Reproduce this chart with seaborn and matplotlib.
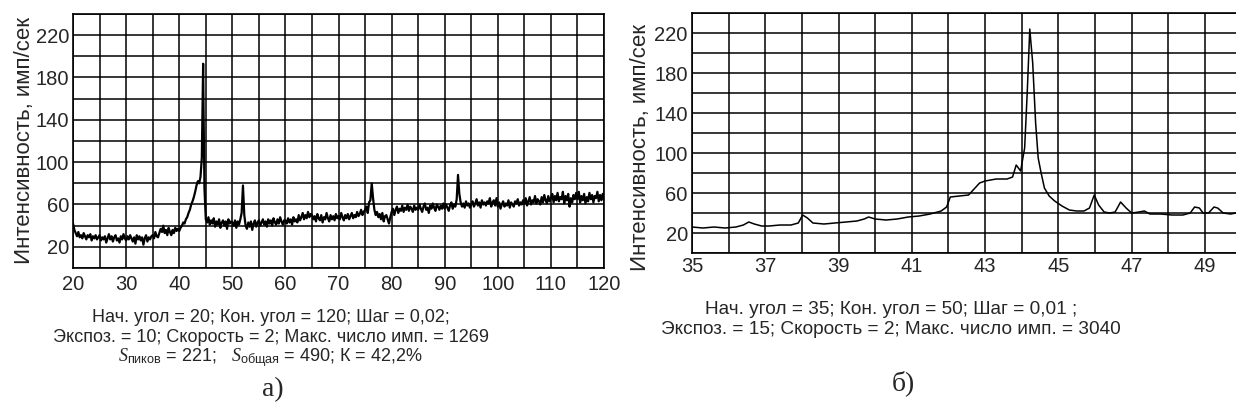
import numpy as np
import pandas as pd
import seaborn as sns
import matplotlib.pyplot as plt
from matplotlib.ticker import MultipleLocator

# ---------------------------------------------------------------
# ДАННЫЕ
# ---------------------------------------------------------------
# а) обзорная дифрактограмма, 20..120 град, шаг выборки 0.25
angle_a = np.arange(20, 120.01, 0.25)
intens_a = [
    42, 36, 33, 30, 34, 29, 31, 28, 33, 30, 27, 31, 29, 32, 26, 30, 28, 31, 27, 29,
    31, 26, 29, 27, 30, 24, 28, 32, 27, 30, 25, 29, 31, 26, 28, 24, 30, 27, 32, 28,
    26, 30, 27, 31, 28, 25, 29, 23, 31, 27, 30, 26, 29, 22, 28, 31, 25, 29, 27, 30,
    31, 28, 34, 30, 29, 33, 37, 34, 40, 33, 36, 31, 38, 34, 31, 36, 33, 38, 35, 37,
    35, 38, 40, 43, 42, 46, 48, 52, 55, 60, 63, 67, 72, 78, 82, 80, 86, 104, 193, 75,
    46, 43, 48, 41, 45, 42, 47, 39, 44, 41, 46, 38, 43, 45, 40, 44, 37, 46, 42, 44,
    43, 40, 45, 38, 44, 41, 46, 52, 78, 50, 40, 37, 43, 39, 44, 36, 42, 45, 39, 43,
    45, 40, 43, 46, 41, 44, 39, 46, 42, 45, 40, 47, 43, 41, 46, 42, 48, 44, 41, 45,
    45, 42, 47, 43, 46, 41, 48, 44, 46, 43, 50, 45, 48, 52, 46, 50, 47, 53, 48, 51,
    50, 46, 49, 44, 51, 47, 45, 50, 43, 48, 46, 52, 47, 44, 50, 46, 49, 45, 51, 47,
    49, 46, 52, 48, 45, 50, 47, 51, 46, 49, 52, 47, 50, 48, 53, 49, 51, 55, 50, 53,
    55, 58, 52, 62, 64, 80, 66, 55, 50, 53, 48, 51, 46, 52, 44, 49, 50, 46, 42, 48,
    53, 56, 50, 55, 58, 52, 56, 54, 59, 53, 57, 55, 60, 54, 58, 56, 53, 59, 55, 57,
    55, 60, 56, 53, 58, 61, 55, 57, 52, 59, 56, 61, 57, 54, 60, 58, 55, 59, 56, 61,
    56, 60, 57, 54, 59, 62, 56, 60, 58, 65, 88, 70, 62, 58, 61, 57, 63, 59, 61, 57,
    60, 63, 58, 61, 65, 59, 62, 57, 64, 60, 62, 59, 63, 61, 66, 58, 62, 64, 59, 66,
    58, 62, 56, 60, 63, 58, 61, 59, 64, 57, 62, 60, 58, 63, 61, 65, 59, 62, 60, 64,
    61, 66, 59, 63, 67, 60, 64, 62, 68, 61, 65, 63, 60, 67, 62, 69, 64, 61, 68, 63,
    66, 70, 62, 68, 64, 71, 63, 67, 65, 72, 61, 68, 64, 70, 58, 66, 62, 69, 65, 71,
    65, 72, 62, 68, 64, 70, 61, 67, 63, 71, 65, 69, 62, 68, 66, 72, 63, 69, 64, 70,
    64,
]
# дополнительные точки на склонах главного пика
peak_angle_a = [44.4, 44.6]
peak_intens_a = [160, 140]

# б) детальный участок 35..50 град
angle_b = [35.0, 35.3, 35.6, 35.9, 36.2, 36.4, 36.55, 36.7, 36.9, 37.1,
           37.4, 37.7, 37.9, 38.02, 38.15, 38.3, 38.6, 38.9, 39.2, 39.5,
           39.7, 39.82, 40.0, 40.3, 40.6, 40.9, 41.2, 41.5, 41.8, 41.95,
           42.05, 42.3, 42.55, 42.7, 42.85, 43.0, 43.3, 43.6, 43.75, 43.85,
           43.97, 44.08, 44.15, 44.22, 44.3, 44.38, 44.45, 44.53, 44.62, 44.75,
           44.9, 45.1, 45.3, 45.5, 45.7, 45.85, 45.98, 46.1, 46.25, 46.4,
           46.55, 46.7, 46.85, 47.0, 47.2, 47.35, 47.5, 47.8, 48.1, 48.4,
           48.6, 48.72, 48.85, 48.95, 49.1, 49.25, 49.35, 49.5, 49.7, 49.85]
intens_b = [26, 25, 26, 25, 26, 28, 31, 29, 27, 27,
            28, 28, 30, 38, 35, 30, 29, 30, 31, 32,
            34, 36, 34, 33, 34, 36, 37, 39, 42, 46,
            56, 57, 58, 64, 70, 72, 74, 74, 76, 88,
            82, 105, 160, 224, 190, 130, 95, 80, 65, 57,
            52, 47, 43, 42, 42, 45, 58, 48, 41, 40,
            41, 51, 45, 40, 41, 42, 39, 39, 38, 38,
            40, 46, 45, 40, 40, 46, 45, 40, 39, 40]

ticks_y = [20, 60, 100, 140, 180, 220]
ticks_x_a = list(range(20, 121, 10))
ticks_x_b = list(range(35, 50, 2))

caption_a = ["Нач. угол = 20; Кон. угол = 120; Шаг = 0,02;",
             "Экспоз. = 10; Скорость = 2; Макс. число имп. = 1269",
             r"$S_{\mathrm{пиков}}$ = 221;   $S_{\mathrm{общая}}$ = 490; К = 42,2%"]
caption_b = ["Нач. угол = 35; Кон. угол = 50; Шаг = 0,01 ;",
             "Экспоз. = 15; Скорость = 2; Макс. число имп. = 3040"]
ylabel = "Интенсивность, имп/сек"

# ---------------------------------------------------------------
# СТИЛЬ
# ---------------------------------------------------------------
sns.set_style("white")
plt.rcParams['font.family'] = ['Liberation Sans', 'DejaVu Sans']
plt.rcParams['mathtext.fontset'] = 'custom'
plt.rcParams['mathtext.it'] = 'Liberation Serif:italic'
plt.rcParams['mathtext.rm'] = 'Liberation Sans'

df_a = pd.DataFrame({"angle": list(angle_a) + peak_angle_a,
                     "intens": intens_a + peak_intens_a}).sort_values("angle")
df_b = pd.DataFrame({"angle": angle_b, "intens": intens_b})

fig = plt.figure(figsize=(12.36, 4.2), dpi=100)
ax_a = fig.add_axes([0.0591, 0.3619, 0.4296, 0.6048])
ax_b = fig.add_axes([0.5599, 0.3976, 0.4401, 0.5714])


def setup(ax, xlim, xstep, xticks):
    ax.set_xlim(*xlim)
    ax.set_ylim(0, 240)
    ax.xaxis.set_minor_locator(MultipleLocator(xstep))
    ax.yaxis.set_minor_locator(MultipleLocator(20))
    ax.set_xticks(xticks)
    ax.set_yticks(ticks_y)
    ax.grid(which="minor", color="black", linewidth=1.1)
    ax.grid(which="major", color="black", linewidth=1.1)
    ax.tick_params(which="both", length=0, labelsize=14.5, pad=3)
    for s in ax.spines.values():
        s.set_color("black")
        s.set_linewidth(1.2)
    ax.set_xlabel("")
    ax.set_ylabel(ylabel, fontsize=16, labelpad=0)
    ax.set_axisbelow(True)


sns.lineplot(data=df_a, x="angle", y="intens", ax=ax_a, color="black",
             linewidth=1.6, sort=False)
setup(ax_a, (20, 120), 5, ticks_x_a)
ax_a.tick_params(axis="x", pad=5)

sns.lineplot(data=df_b, x="angle", y="intens", ax=ax_b, color="black",
             linewidth=1.1, sort=False)
setup(ax_b, (35, 49.85), 1, ticks_x_b)
ax_b.spines["right"].set_visible(False)
ax_b.yaxis.set_label_coords(-0.075, 0.44)

for i, line in enumerate(caption_a):
    fig.text(0.219, 1 - (318 + 20 * i) / 420, line, ha="center", va="center", fontsize=13)
for i, line in enumerate(caption_b):
    fig.text(0.721, 1 - (310 + 20 * i) / 420, line, ha="center", va="center", fontsize=13.7)

fig.text(0.221, 1 - 390 / 420, "а)", ha="center", va="center", fontsize=20,
         family="Liberation Serif")
fig.text(0.731, 1 - 383 / 420, "б)", ha="center", va="center", fontsize=20,
         family="Liberation Serif")

fig.savefig("out.png", dpi=100)
